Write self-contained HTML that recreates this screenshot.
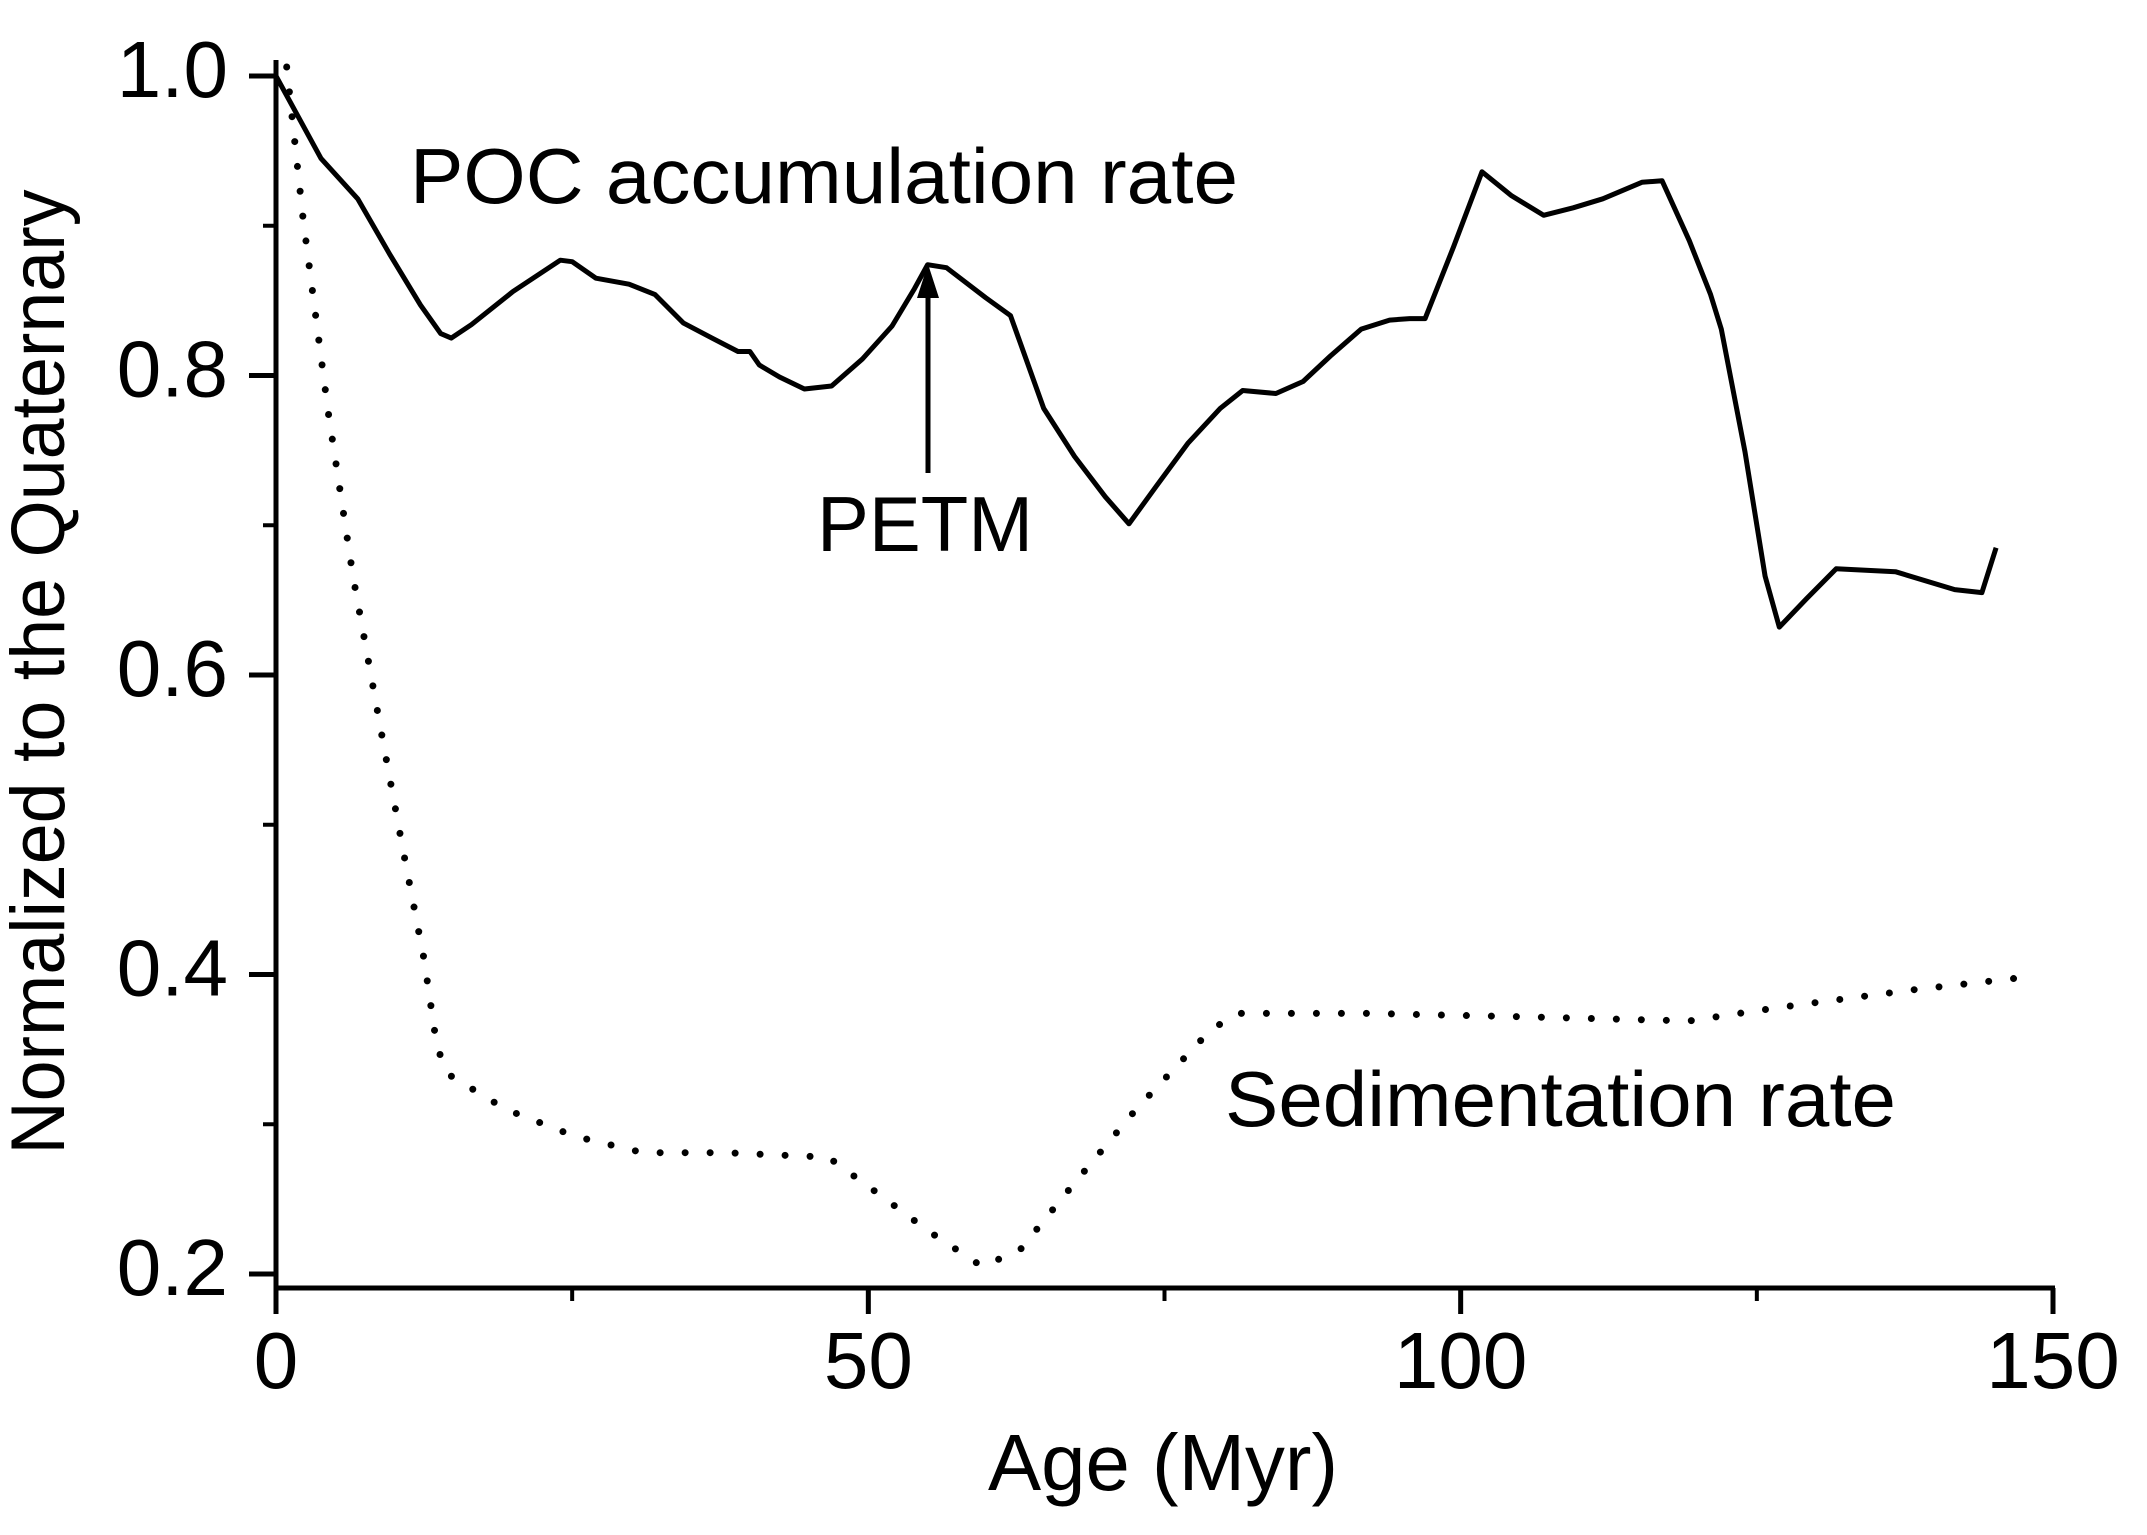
<!DOCTYPE html>
<html><head><meta charset="utf-8"><style>html,body{margin:0;padding:0;background:#fff}svg{display:block}</style></head>
<body>
<svg xmlns="http://www.w3.org/2000/svg" width="2147" height="1535" viewBox="0 0 2147 1535" font-family="Liberation Sans, Arial, sans-serif">
<g id="axes"></g>
<g id="series"></g>
<g id="labels">
<text transform="translate(64,672) rotate(-90)" text-anchor="middle" font-size="76" textLength="965" lengthAdjust="spacingAndGlyphs">Normalized to the Quaternary</text>
<text x="1163" y="1490" text-anchor="middle" font-size="80" textLength="350" lengthAdjust="spacingAndGlyphs">Age (Myr)</text>
<text x="410" y="203" font-size="78" textLength="828" lengthAdjust="spacingAndGlyphs">POC accumulation rate</text>
<text x="817" y="551" font-size="78" textLength="216" lengthAdjust="spacingAndGlyphs">PETM</text>
<text x="1225" y="1126" font-size="78" textLength="671" lengthAdjust="spacingAndGlyphs">Sedimentation rate</text>
</g>
<g>
<line x1="928" y1="473" x2="928" y2="290" stroke="#000" stroke-width="5"/>
<polygon points="928,264 917,298 939,298" fill="#000"/>
</g>
</svg>
<script>
const xTicks = [0, 50, 100, 150];
const xMinor = [25, 75, 125];
const yTicks = [0.2, 0.4, 0.6, 0.8, 1.0];
const yTickLabels = ["0.2", "0.4", "0.6", "0.8", "1.0"];
const yMinor = [0.3, 0.5, 0.7, 0.9];
const pocAge = [0,3.8,6.9,9.6,12.2,13.9,14.8,16.5,20,24,25,27,29.8,32,34.4,36.8,39,40,40.8,42.5,44.6,46.9,49.5,52,53.9,55,56.6,59.9,62,64.8,67.4,70,72,74.3,77,79.7,81.6,84.4,86.7,89,91.6,94,95.7,97,99.4,101.8,104.3,107,109.5,112,115.3,117,119.3,121.1,122,124,125.7,126.9,129.2,131.7,136.7,141.7,144,145.2];
const pocVal = [1.0,0.945,0.918,0.881,0.847,0.828,0.825,0.834,0.856,0.877,0.876,0.865,0.861,0.854,0.835,0.825,0.816,0.816,0.807,0.799,0.791,0.793,0.811,0.833,0.858,0.874,0.872,0.852,0.840,0.778,0.746,0.719,0.701,0.726,0.755,0.778,0.790,0.788,0.796,0.813,0.831,0.837,0.838,0.838,0.886,0.936,0.920,0.907,0.912,0.918,0.929,0.930,0.890,0.854,0.831,0.749,0.666,0.632,0.651,0.671,0.669,0.657,0.655,0.685];
const sedAge = [0.9,2.3,4.4,6.5,9,10.7,12.5,13.6,14.6,19.4,25.2,31,37.9,46.6,50.6,55.2,59.6,62.8,66.8,72.6,78.9,81.2,92.2,103.8,119.3,126.9,138.4,148.6];
const sedVal = [1.006,0.904,0.776,0.666,0.557,0.484,0.410,0.351,0.333,0.310,0.292,0.281,0.281,0.278,0.255,0.228,0.205,0.216,0.255,0.310,0.363,0.374,0.374,0.372,0.369,0.378,0.390,0.399];

const X0 = 276, X1 = 2053, Y10 = 76, Y02 = 1274, AXY = 1288;
function xs(v){ return X0 + (v/150)*(X1-X0); }
function ys(v){ return Y10 + (1.0 - v)/0.8*(Y02-Y10); }
const NS = "http://www.w3.org/2000/svg";
function mk(tag, attrs, parent){ const e = document.createElementNS(NS, tag); for (const k in attrs) e.setAttribute(k, attrs[k]); parent.appendChild(e); return e; }
const axes = document.getElementById('axes');
const series = document.getElementById('series');

let a = mk('line', {x1:X0, y1:60, x2:X0, y2:1313, stroke:'#000','stroke-width':5}, axes);


a = mk('line', {x1:X0-2, y1:AXY, x2:X1+2, y2:AXY, stroke:'#000','stroke-width':5}, axes);



xTicks.forEach((t) => {
  const l = mk('line', {x1:xs(t), y1:AXY, x2:xs(t), y2:AXY+26, stroke:'#000','stroke-width':5}, axes);
  
  
  const tx = mk('text', {x:xs(t), y:1388, 'text-anchor':'middle','font-size':80}, axes);
  tx.textContent = String(t);
  
  
});
xMinor.forEach((t) => {
  const l = mk('line', {x1:xs(t), y1:AXY, x2:xs(t), y2:AXY+13, stroke:'#000','stroke-width':4}, axes);
  
  
});
yTicks.forEach((t, i) => {
  const l = mk('line', {x1:X0-27, y1:ys(t), x2:X0, y2:ys(t), stroke:'#000','stroke-width':5}, axes);
  
  
  const tx = mk('text', {x:228, y:ys(t)+21, 'text-anchor':'end','font-size':80}, axes);
  tx.textContent = yTickLabels[i];
  
  
});
yMinor.forEach((t) => {
  const l = mk('line', {x1:X0-13, y1:ys(t), x2:X0, y2:ys(t), stroke:'#000','stroke-width':4}, axes);
  
  
});

const pocPts = pocAge.map((v,i) => xs(v).toFixed(1)+','+ys(pocVal[i]).toFixed(1)).join(' ');
const poc = mk('polyline', {points:pocPts, fill:'none', stroke:'#000','stroke-width':5,'stroke-linejoin':'round'}, series);



const sedPts = sedAge.map((v,i) => xs(v).toFixed(1)+','+ys(sedVal[i]).toFixed(1)).join(' ');
const sed = mk('polyline', {points:sedPts, fill:'none', stroke:'#000','stroke-width':7,'stroke-linecap':'round','stroke-dasharray':'0 25'}, series);


</script>
</body></html>
